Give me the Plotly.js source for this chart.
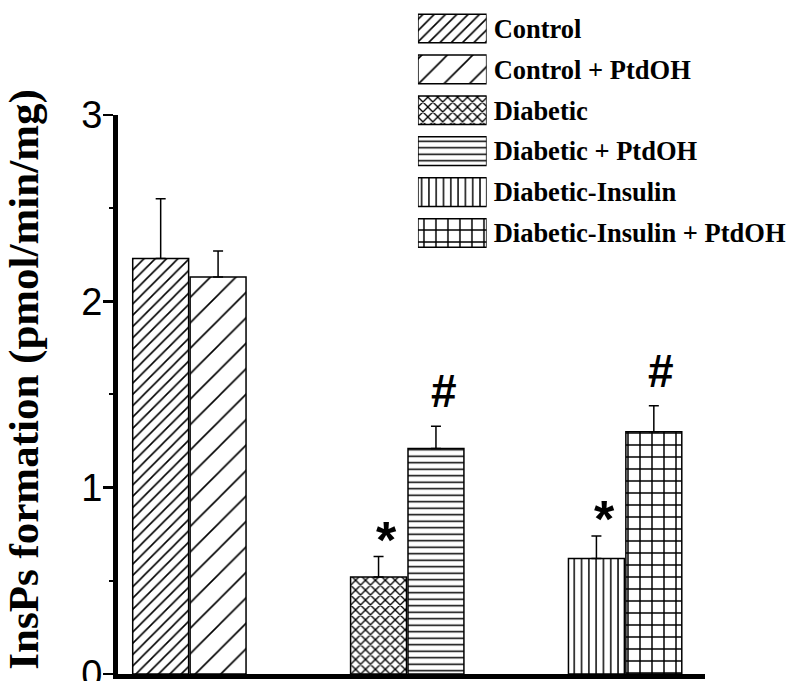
<!DOCTYPE html>
<html>
<head>
<meta charset="utf-8">
<script src="https://cdn.plot.ly/plotly-3.0.1.min.js"></script>
<style>html,body{margin:0;padding:0;background:#fff;}#chart{width:790px;height:681px;}</style>
</head>
<body>
<div id="chart"></div>
<script>
// ---- data ----
const groups = ['Control', 'Diabetic', 'Diabetic-Insulin'];
const seriesNames = ['Control', 'Control + PtdOH', 'Diabetic', 'Diabetic + PtdOH', 'Diabetic-Insulin', 'Diabetic-Insulin + PtdOH'];
const seriesGroup = ['Control', 'Control', 'Diabetic', 'Diabetic', 'Diabetic-Insulin', 'Diabetic-Insulin'];
const seriesTreatment = ['none', 'PtdOH', 'none', 'PtdOH', 'none', 'PtdOH'];
const means = [2.23, 2.13, 0.52, 1.21, 0.62, 1.30];
const errors = [0.32, 0.14, 0.11, 0.12, 0.12, 0.14];
const marks = ['', '', '*', '#', '*', '#'];
const yTicks = [0, 1, 2, 3];

// ---- styles ----
const patShape = ['/', '/', 'x', '-', '|', '+'];
const patSize = [8, 18, 7, 6.5, 7.3, 12];
const patSolid = [0.2, 0.09, 0.35, 0.23, 0.2, 0.23];

const traces = [];
seriesNames.forEach((name, i) => {
  traces.push({
    type: 'bar',
    name: name,
    x: [seriesGroup[i]],
    y: [means[i]],
    offsetgroup: seriesTreatment[i],
    showlegend: false,
    marker: {
      color: 'white',
      line: {color: 'black', width: 1.5},
      pattern: {shape: patShape[i], size: patSize[i], solidity: patSolid[i], fgcolor: 'black', bgcolor: 'white', fillmode: 'replace'}
    },
    error_y: {type: 'data', symmetric: false, array: [errors[i]], arrayminus: [0], color: 'black', thickness: 1.5, width: 5},
    xaxis: 'x', yaxis: 'y'
  });
});

// legend swatches drawn as bars on an auxiliary axis
traces.push({
  type: 'bar',
  orientation: 'h',
  y: seriesNames,
  x: seriesNames.map(() => 1),
  width: 0.7,
  showlegend: false,
  hoverinfo: 'skip',
  marker: {
    color: 'white',
    line: {color: 'black', width: 1.5},
    pattern: {shape: patShape, size: patSize, solidity: patSolid, fgcolor: 'black', bgcolor: 'white', fillmode: 'replace'}
  },
  xaxis: 'x2', yaxis: 'y2'
});

const halfSlot = 0.1318;
const annotations = [];
seriesNames.forEach((name, i) => {
  if (!marks[i]) return;
  const gi = groups.indexOf(seriesGroup[i]);
  const off = seriesTreatment[i] === 'none' ? -halfSlot : halfSlot;
  const isStar = marks[i] === '*';
  annotations.push({
    x: gi + off + 0.035, y: means[i] + errors[i], xref: 'x', yref: 'y',
    text: '<b>' + marks[i] + '</b>', showarrow: false,
    xanchor: 'center', yanchor: 'bottom',
    yshift: isStar ? -14 : 7,
    font: {family: 'Liberation Sans, Arial, sans-serif', size: isStar ? 52 : 46, color: 'black'}
  });
});
annotations.push({
  x: -0.16, y: 0.44, xref: 'paper', yref: 'paper',
  text: '<b>InsPs formation (pmol/min/mg)</b>', textangle: -90, showarrow: false,
  xanchor: 'center', yanchor: 'middle',
  font: {family: 'Liberation Serif, Times New Roman, serif', size: 43, color: 'black'}
});

const layout = {
  width: 790, height: 681,
  margin: {l: 118, r: 85, t: 5, b: 7},
  paper_bgcolor: 'white', plot_bgcolor: 'white',
  barmode: 'group', bargap: 0.473, bargroupgap: 0.026,
  showlegend: false,
  xaxis: {
    type: 'category', categoryorder: 'array', categoryarray: groups,
    range: [-0.3276, 2.3666], showticklabels: false, ticks: '',
    showline: true, linecolor: 'black', linewidth: 5, showgrid: false, zeroline: false,
    anchor: 'y', fixedrange: true
  },
  yaxis: {
    domain: [0, 0.8356], range: [0, 3], tickvals: yTicks, ticktext: yTicks.map(String),
    ticks: 'outside', ticklen: 10, tickwidth: 2.5, tickcolor: 'black',
    minor: {dtick: 0.5, ticks: 'outside', ticklen: 4, tickwidth: 2, tickcolor: 'black'},
    showline: true, linecolor: 'black', linewidth: 5, showgrid: false, zeroline: false,
    tickfont: {family: 'Liberation Sans, Arial, sans-serif', size: 38, color: 'black'},
    ticklabelstandoff: -7, ticklabeloverflow: 'allow', anchor: 'x'
  },
  xaxis2: {
    domain: [0.511, 0.628], range: [0, 1], anchor: 'y2', visible: false, fixedrange: true
  },
  yaxis2: {
    domain: [0.6286, 0.9955], type: 'category', categoryorder: 'array', categoryarray: seriesNames,
    range: [5.5, -0.5], anchor: 'x2', side: 'right', showline: false, showgrid: false, zeroline: false,
    ticks: '', ticklabelstandoff: 6, ticklabeloverflow: 'allow',
    tickfont: {family: 'Liberation Serif, Times New Roman, serif', size: 26.5, color: 'black', weight: 'bold'}
  },
  annotations: annotations
};

Plotly.newPlot('chart', traces, layout, {displayModeBar: false, staticPlot: true});
</script>
</body>
</html>
